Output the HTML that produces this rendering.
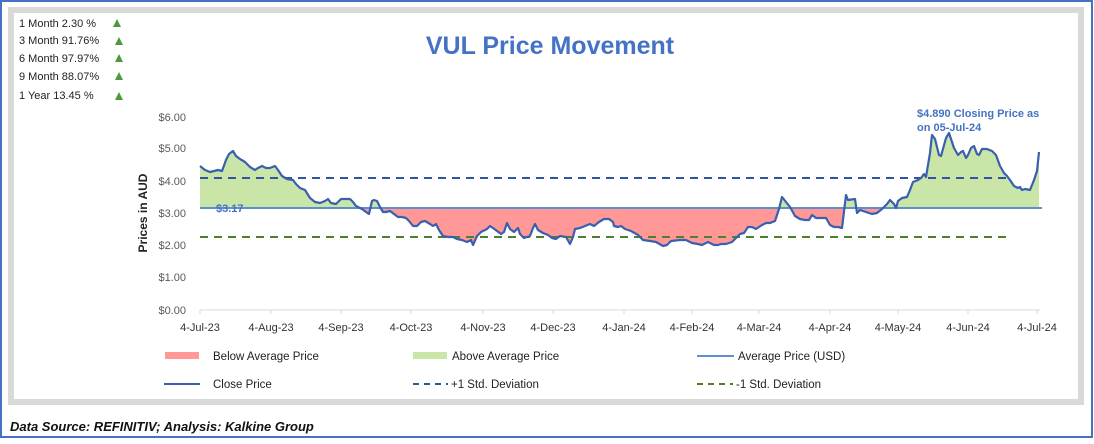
<!DOCTYPE html>
<html><head><meta charset="utf-8"><style>
body{margin:0;width:1094px;height:439px;overflow:hidden;background:#fff;font-family:"Liberation Sans",sans-serif}
</style></head><body>
<svg width="1094" height="439" xmlns="http://www.w3.org/2000/svg" font-family="Liberation Sans, sans-serif">
<rect x="1" y="1" width="1091" height="436" fill="#fff" stroke="#4472c4" stroke-width="2"/>
<rect x="11" y="10" width="1070" height="392" fill="#fff" stroke="#d9d9d9" stroke-width="6"/>
<g font-size="11" fill="#222">
<text x="19" y="27">1 Month 2.30 %</text><text x="19" y="44">3 Month 91.76%</text><text x="19" y="62">6 Month 97.97%</text><text x="19" y="80">9 Month 88.07%</text><text x="19" y="99">1 Year 13.45 %</text>
</g>
<g fill="#4e9a3a">
<polygon points="113,27 117,19 121,27"/><polygon points="115,45 119,37 123,45"/><polygon points="115,62 119,54 123,62"/><polygon points="115,80 119,72 123,80"/><polygon points="115,100 119,92 123,100"/>
</g>
<text x="550" y="54" text-anchor="middle" font-size="25" font-weight="bold" fill="#4472c4">VUL Price Movement</text>
<g font-size="11" fill="#595959" text-anchor="end">
<text x="186" y="121">$6.00</text><text x="186" y="152">$5.00</text><text x="186" y="185">$4.00</text><text x="186" y="217">$3.00</text><text x="186" y="249">$2.00</text><text x="186" y="281">$1.00</text><text x="186" y="314">$0.00</text>
</g>
<text transform="translate(147,213) rotate(-90)" text-anchor="middle" font-size="12" font-weight="bold" fill="#222">Prices in AUD</text>
<line x1="200" y1="310" x2="1040" y2="310" stroke="#d9d9d9"/>
<g stroke="#d9d9d9"><line x1="200" y1="310" x2="200" y2="314"/><line x1="271" y1="310" x2="271" y2="314"/><line x1="341" y1="310" x2="341" y2="314"/><line x1="411" y1="310" x2="411" y2="314"/><line x1="483" y1="310" x2="483" y2="314"/><line x1="553" y1="310" x2="553" y2="314"/><line x1="624" y1="310" x2="624" y2="314"/><line x1="692" y1="310" x2="692" y2="314"/><line x1="759" y1="310" x2="759" y2="314"/><line x1="830" y1="310" x2="830" y2="314"/><line x1="898" y1="310" x2="898" y2="314"/><line x1="968" y1="310" x2="968" y2="314"/><line x1="1037" y1="310" x2="1037" y2="314"/></g>
<g font-size="11" fill="#333" text-anchor="middle">
<text x="200" y="331">4-Jul-23</text><text x="271" y="331">4-Aug-23</text><text x="341" y="331">4-Sep-23</text><text x="411" y="331">4-Oct-23</text><text x="483" y="331">4-Nov-23</text><text x="553" y="331">4-Dec-23</text><text x="624" y="331">4-Jan-24</text><text x="692" y="331">4-Feb-24</text><text x="759" y="331">4-Mar-24</text><text x="830" y="331">4-Apr-24</text><text x="898" y="331">4-May-24</text><text x="968" y="331">4-Jun-24</text><text x="1037" y="331">4-Jul-24</text>
</g>
<defs>
<clipPath id="ca"><rect x="190" y="100" width="860" height="108"/></clipPath>
<clipPath id="cb"><rect x="190" y="208" width="860" height="100"/></clipPath>
<polygon id="area" points="200,208 200,166 205,170 210,172 218,170 222,171 226,160 229,154 233,151 236,156 240,159 245,162 250,167 255,170 258,168 262,166 266,168 270,168 275,166 278,170 282,176 287,179 293,180 296,184 300,188 305,190 310,198 315,202 320,203 325,201 328,199 331,203 336,204 341,199 346,199 350,199 353,202 356,206 362,209 366,212 369,214 372,201 374,200 377,201 380,207 383,212 386,212 390,211 394,214 398,217 402,217 406,218 409,221 413,226 417,226 421,222 425,221 430,224 433,226 436,224 439,230 443,236 448,237 453,237 457,239 462,240 467,242 471,240 473,245 477,236 481,232 487,229 490,226 493,228 497,231 501,234 504,232 507,223 510,229 514,232 518,228 520,234 524,238 530,236 533,228 535,224 538,230 543,233 548,235 552,238 556,239 560,236 566,237 570,244 573,237 575,229 580,228 585,226 590,224 594,226 599,222 604,219 609,219 613,222 614,226 618,227 621,226 625,229 631,231 638,235 643,240 650,241 656,242 663,246 667,245 671,241 680,240 686,240 692,243 698,244 702,245 708,242 714,245 718,245 721,244 726,244 732,242 735,239 740,234 744,233 748,227 752,227 756,229 762,225 766,223 770,223 775,221 779,209 782,197 786,202 790,207 795,216 800,219 805,220 809,220 812,215 816,218 826,218 830,225 834,227 838,227 842,228 846,195 848,200 855,199 857,213 860,210 866,212 872,214 877,213 882,209 887,204 890,200 894,204 896,208 898,201 902,198 907,197 910,190 913,182 918,180 921,178 924,174 926,177 930,153 932,135 935,139 939,155 941,156 946,138 949,133 954,148 958,155 961,152 963,151 966,158 968,155 971,148 974,146 977,154 979,155 982,149 987,149 992,151 996,155 1000,166 1004,173 1007,176 1010,180 1014,186 1018,188 1020,187 1022,190 1025,189 1030,190 1034,180 1037,171 1039,152 1039,208"/>
</defs>
<use href="#area" clip-path="url(#ca)" fill="#c9e6a8"/>
<use href="#area" clip-path="url(#cb)" fill="#ff9896"/>
<line x1="200" y1="208" x2="1042" y2="208" stroke="#5b8fd0" stroke-width="2"/>
<line x1="200" y1="178" x2="1010" y2="178" stroke="#2f54a0" stroke-width="2" stroke-dasharray="8,6"/>
<line x1="200" y1="237" x2="1010" y2="237" stroke="#4e7f2a" stroke-width="2" stroke-dasharray="8,6"/>
<polyline fill="none" stroke="#3a5fae" stroke-width="2.2" stroke-linejoin="round" points="200,166 205,170 210,172 218,170 222,171 226,160 229,154 233,151 236,156 240,159 245,162 250,167 255,170 258,168 262,166 266,168 270,168 275,166 278,170 282,176 287,179 293,180 296,184 300,188 305,190 310,198 315,202 320,203 325,201 328,199 331,203 336,204 341,199 346,199 350,199 353,202 356,206 362,209 366,212 369,214 372,201 374,200 377,201 380,207 383,212 386,212 390,211 394,214 398,217 402,217 406,218 409,221 413,226 417,226 421,222 425,221 430,224 433,226 436,224 439,230 443,236 448,237 453,237 457,239 462,240 467,242 471,240 473,245 477,236 481,232 487,229 490,226 493,228 497,231 501,234 504,232 507,223 510,229 514,232 518,228 520,234 524,238 530,236 533,228 535,224 538,230 543,233 548,235 552,238 556,239 560,236 566,237 570,244 573,237 575,229 580,228 585,226 590,224 594,226 599,222 604,219 609,219 613,222 614,226 618,227 621,226 625,229 631,231 638,235 643,240 650,241 656,242 663,246 667,245 671,241 680,240 686,240 692,243 698,244 702,245 708,242 714,245 718,245 721,244 726,244 732,242 735,239 740,234 744,233 748,227 752,227 756,229 762,225 766,223 770,223 775,221 779,209 782,197 786,202 790,207 795,216 800,219 805,220 809,220 812,215 816,218 826,218 830,225 834,227 838,227 842,228 846,195 848,200 855,199 857,213 860,210 866,212 872,214 877,213 882,209 887,204 890,200 894,204 896,208 898,201 902,198 907,197 910,190 913,182 918,180 921,178 924,174 926,177 930,153 932,135 935,139 939,155 941,156 946,138 949,133 954,148 958,155 961,152 963,151 966,158 968,155 971,148 974,146 977,154 979,155 982,149 987,149 992,151 996,155 1000,166 1004,173 1007,176 1010,180 1014,186 1018,188 1020,187 1022,190 1025,189 1030,190 1034,180 1037,171 1039,152"/>
<text x="216" y="212" font-size="11" font-weight="bold" fill="#4472c4">$3.17</text>
<text x="917" y="117" font-size="11" font-weight="bold" fill="#4472c4">$4.890 Closing Price as</text>
<text x="917" y="131" font-size="11" font-weight="bold" fill="#4472c4">on 05-Jul-24</text>
<g font-size="11.5" fill="#222">
<rect x="165" y="352" width="34" height="7" fill="#ff9896"/><text x="213" y="360">Below Average Price</text>
<rect x="413" y="352" width="34" height="7" fill="#c9e6a8"/><text x="452" y="360">Above Average Price</text>
<line x1="697" y1="356" x2="734" y2="356" stroke="#5b8fd0" stroke-width="2"/><text x="738" y="360">Average Price (USD)</text>
<line x1="164" y1="384" x2="200" y2="384" stroke="#3a5fae" stroke-width="2"/><text x="213" y="388">Close Price</text>
<line x1="413" y1="384" x2="448" y2="384" stroke="#2f54a0" stroke-width="2" stroke-dasharray="6,5"/><text x="451" y="388">+1 Std. Deviation</text>
<line x1="697" y1="384" x2="733" y2="384" stroke="#4e7f2a" stroke-width="2" stroke-dasharray="6,5"/><text x="736" y="388">-1 Std. Deviation</text>
</g>
<text x="10" y="431" font-size="13" font-weight="bold" font-style="italic" fill="#111">Data Source: REFINITIV; Analysis: Kalkine Group</text>
</svg>
</body></html>
